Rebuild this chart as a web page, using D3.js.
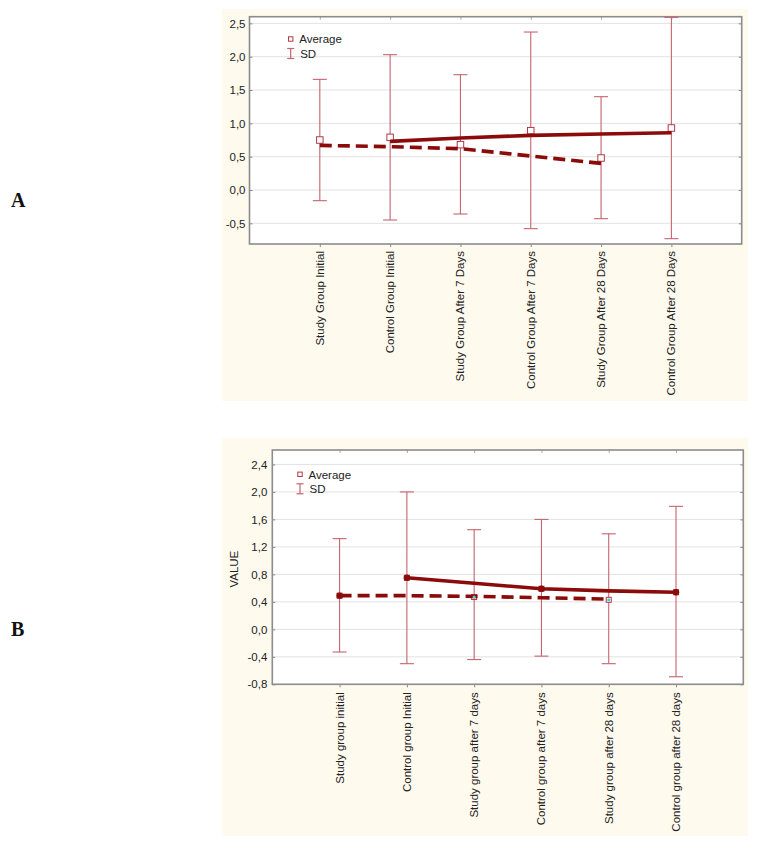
<!DOCTYPE html>
<html>
<head>
<meta charset="utf-8">
<script src="https://cdn.jsdelivr.net/npm/d3@7"></script>
<style>
  html, body { margin: 0; padding: 0; background: #ffffff; }
  svg { display: block; }
  text { font-family: "Liberation Sans", Arial, sans-serif; }
</style>
</head>
<body>
<svg id="chart" width="758" height="849"></svg>
<script>
// ---------- Panel A data ----------
const categoriesA = ["Study Group Initial", "Control Group Initial", "Study Group After 7 Days",
  "Control Group After 7 Days", "Study Group After 28 Days", "Control Group After 28 Days"];
const averageA = [0.75, 0.79, 0.68, 0.89, 0.48, 0.93];
const sdUpperA = [1.66, 2.03, 1.73, 2.37, 1.40, 2.59];
const sdLowerA = [-0.16, -0.45, -0.36, -0.58, -0.43, -0.73];
const studyLineA = [0.67, 0.65, 0.62, 0.51, 0.40, null];
const controlLineA = [null, 0.73, 0.78, 0.82, 0.84, 0.86];
const yTicksA = [-0.5, 0, 0.5, 1.0, 1.5, 2.0, 2.5];

// ---------- Panel B data ----------
const categoriesB = ["Study group initial", "Control group Initial", "Study group after 7 days",
  "Control group after 7 days", "Study group after 28 days", "Control group after 28 days"];
const averageB = [0.49, 0.75, 0.47, 0.59, 0.43, 0.54];
const sdUpperB = [1.32, 2.00, 1.45, 1.60, 1.39, 1.79];
const sdLowerB = [-0.33, -0.50, -0.44, -0.39, -0.50, -0.69];
const studyLineB = [0.49, 0.49, 0.48, 0.46, 0.44, null];
const controlLineB = [null, 0.75, 0.67, 0.59, 0.56, 0.54];
const yTicksB = [-0.8, -0.4, 0, 0.4, 0.8, 1.2, 1.6, 2.0, 2.4];

const legendLabels = ["Average", "SD"];
const panelLetters = ["A", "B"];

const svg = d3.select("#chart");
const fmt = v => d3.format(".1f")(v).replace(".", ",").replace("−", "-");

function drawPanel(cfg) {
  const g = svg.append("g");
  // cream background
  g.append("rect").attr("x", cfg.panel[0]).attr("y", cfg.panel[1])
    .attr("width", cfg.panel[2] - cfg.panel[0]).attr("height", cfg.panel[3] - cfg.panel[1])
    .attr("fill", "#fffaee");
  // panel letter
  g.append("text").attr("x", 11).attr("y", cfg.letterY).text(cfg.letter)
    .attr("font-weight", "bold").attr("font-size", 20).attr("fill", "#111")
    .style("font-family", "'Liberation Serif', 'Times New Roman', serif");

  const x = d3.scaleLinear().domain([0, cfg.categories.length + 1]).range([cfg.left, cfg.right]);
  const y = d3.scaleLinear().domain(cfg.yDomain).range([cfg.bottom, cfg.top]);

  // plot area
  g.append("rect").attr("x", cfg.left).attr("y", cfg.top)
    .attr("width", cfg.right - cfg.left).attr("height", cfg.bottom - cfg.top).attr("fill", "#ffffff");

  // gridlines
  g.append("g").selectAll("line").data(cfg.yTicks).join("line")
    .attr("x1", cfg.left).attr("x2", cfg.right)
    .attr("y1", d => y(d)).attr("y2", d => y(d))
    .attr("stroke", "#e2e2e2").attr("stroke-width", 1);

  // left axis
  const yAxis = d3.axisLeft(y).tickValues(cfg.yTicks).tickFormat(fmt).tickSize(-3).tickPadding(cfg.tickPad);
  const ya = g.append("g").attr("transform", `translate(${cfg.left},0)`).call(yAxis);
  ya.select(".domain").remove();
  ya.selectAll(".tick line").attr("stroke", "#888");
  ya.selectAll(".tick text").attr("font-size", 11.5).attr("fill", "#222")
    .attr("font-family", "'Liberation Sans', Arial, sans-serif");
  // right inner ticks
  const yr = g.append("g").attr("transform", `translate(${cfg.right},0)`)
    .call(d3.axisRight(y).tickValues(cfg.yTicks).tickFormat("").tickSize(-3));
  yr.select(".domain").remove();
  yr.selectAll(".tick line").attr("stroke", "#888");

  // bottom axis
  const idx = cfg.categories.map((c, i) => i + 1);
  const xAxis = d3.axisBottom(x).tickValues(idx).tickSize(3).tickFormat(() => "");
  const xa = g.append("g").attr("transform", `translate(0,${cfg.bottom})`).call(xAxis);
  xa.select(".domain").remove();
  xa.selectAll(".tick line").attr("stroke", "#888");
  // top inner ticks
  const xt = g.append("g").attr("transform", `translate(0,${cfg.top})`)
    .call(d3.axisTop(x).tickValues(idx).tickSize(-3).tickFormat(() => ""));
  xt.select(".domain").remove();
  xt.selectAll(".tick line").attr("stroke", "#aaa");

  // category labels
  g.append("g").selectAll("text").data(cfg.categories).join("text")
    .attr("transform", (d, i) => `translate(${x(i + 1) + 4},${cfg.bottom + cfg.labelGap}) rotate(-90)`)
    .attr("text-anchor", "end").attr("font-size", 11.5).attr("fill", "#222")
    .text(d => d);

  // y-axis title
  if (cfg.yTitle) {
    g.append("text").attr("transform", `translate(${cfg.yTitleX},${(cfg.top + cfg.bottom) / 2 + 2}) rotate(-90)`)
      .attr("text-anchor", "middle").attr("font-size", 11.5).attr("fill", "#222").text(cfg.yTitle);
  }

  // frame
  g.append("rect").attr("x", cfg.left).attr("y", cfg.top)
    .attr("width", cfg.right - cfg.left).attr("height", cfg.bottom - cfg.top)
    .attr("fill", "none").attr("stroke", "#8c8c8c").attr("stroke-width", 1.6);

  // error bars
  const sdColor = "#c4646e";
  const cap = 7;
  const eb = g.append("g").attr("stroke", sdColor).attr("stroke-width", 1.1);
  cfg.categories.forEach((c, i) => {
    const cx = x(i + 1);
    eb.append("line").attr("x1", cx).attr("x2", cx).attr("y1", y(cfg.upper[i])).attr("y2", y(cfg.lower[i]));
    eb.append("line").attr("x1", cx - cap).attr("x2", cx + cap).attr("y1", y(cfg.upper[i])).attr("y2", y(cfg.upper[i]));
    eb.append("line").attr("x1", cx - cap).attr("x2", cx + cap).attr("y1", y(cfg.lower[i])).attr("y2", y(cfg.lower[i]));
  });

  // average markers (open squares, drawn under the lines)
  const ms = cfg.markerSize;
  g.append("g").selectAll("rect").data(cfg.average).join("rect")
    .attr("x", (d, i) => x(i + 1) - ms / 2).attr("y", d => y(d) - ms / 2)
    .attr("width", ms).attr("height", ms)
    .attr("fill", cfg.markerFill).attr("stroke", cfg.markerStroke).attr("stroke-width", 1);

  // lines
  const line = d3.line().defined(d => d[1] !== null).x(d => x(d[0])).y(d => y(d[1]));
  const lineColor = "#8b0a0a";
  g.append("path").datum(cfg.studyLine.map((v, i) => [i + 1, v]))
    .attr("d", line).attr("fill", "none").attr("stroke", lineColor)
    .attr("stroke-width", 3.6).attr("stroke-dasharray", "12,6");
  g.append("path").datum(cfg.controlLine.map((v, i) => [i + 1, v]))
    .attr("d", line).attr("fill", "none").attr("stroke", lineColor)
    .attr("stroke-width", 3.6);

  if (cfg.dots) {
    const isCyan = i => i === 2 || i === 4;
    g.append("g").selectAll("circle").data(cfg.average).join("circle")
      .attr("cx", (d, i) => x(i + 1)).attr("cy", d => y(d))
      .attr("r", (d, i) => (isCyan(i) ? 1.6 : 3.2))
      .attr("fill", (d, i) => (isCyan(i) ? "#4fc9d0" : lineColor));
  }

  // legend
  const L = cfg.legend;
  const lg = g.append("g");
  lg.append("rect").attr("x", L[0] - 2.2).attr("y", L[1] - 2.2).attr("width", 4.4).attr("height", 4.4)
    .attr("fill", "none").attr("stroke", "#b03848").attr("stroke-width", 1);
  lg.append("text").attr("x", L[0] + 8.5).attr("y", L[1] + 4.2).attr("font-size", 11.5).attr("fill", "#222").text(legendLabels[0]);
  const sdTop = L[1] + 9.5, sdBot = L[1] + 19.5;
  lg.append("line").attr("x1", L[0]).attr("x2", L[0]).attr("y1", sdTop).attr("y2", sdBot).attr("stroke", sdColor).attr("stroke-width", 1.2);
  lg.append("line").attr("x1", L[0] - 3.5).attr("x2", L[0] + 3.5).attr("y1", sdTop).attr("y2", sdTop).attr("stroke", sdColor).attr("stroke-width", 1.2);
  lg.append("line").attr("x1", L[0] - 3.5).attr("x2", L[0] + 3.5).attr("y1", sdBot).attr("y2", sdBot).attr("stroke", sdColor).attr("stroke-width", 1.2);
  lg.append("text").attr("x", L[0] + 9.5).attr("y", L[1] + 18.5).attr("font-size", 11.5).attr("fill", "#222").text(legendLabels[1]);
}

drawPanel({
  letter: panelLetters[0], letterY: 207,
  panel: [222, 9, 748, 401],
  left: 249.5, right: 741.7, top: 16.7, bottom: 244,
  yDomain: [-0.81, 2.6], yTicks: yTicksA, tickPad: 4,
  categories: categoriesA, average: averageA, upper: sdUpperA, lower: sdLowerA,
  studyLine: studyLineA, controlLine: controlLineA,
  labelGap: 7, markerSize: 6.5, markerFill: "#ffffff", markerStroke: "#b03848",
  legend: [290.7, 39], dots: false
});

drawPanel({
  letter: panelLetters[1], letterY: 636,
  panel: [222, 438, 748, 836],
  left: 272.3, right: 743.3, top: 450, bottom: 684.3,
  yDomain: [-0.8, 2.61], yTicks: yTicksB, tickPad: 5,
  categories: categoriesB, average: averageB, upper: sdUpperB, lower: sdLowerB,
  studyLine: studyLineB, controlLine: controlLineB,
  labelGap: 8, markerSize: 5, markerFill: "#ffffff", markerStroke: "#b03848",
  legend: [300, 474.3], dots: true,
  yTitle: "VALUE", yTitleX: 238
});
</script>
</body>
</html>
